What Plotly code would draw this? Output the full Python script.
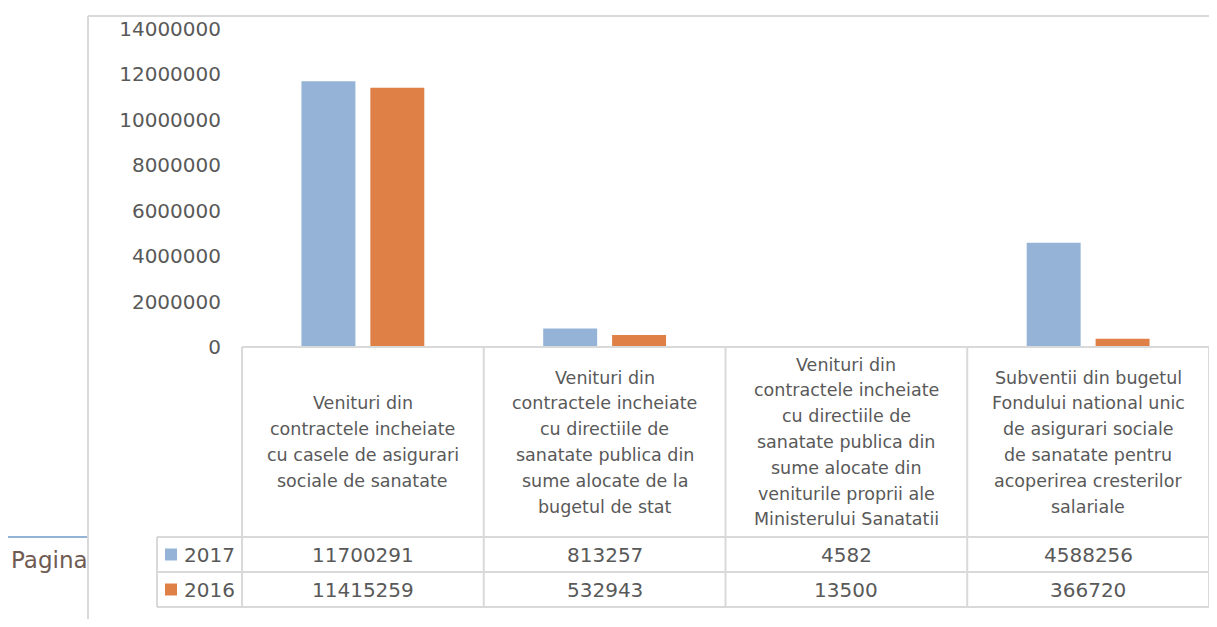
import plotly.graph_objects as go

# reference canvas and page offset (browser body margin)
REF_W, REF_H = 1217, 627
OFF = 8
W, H = REF_W - 2 * OFF, REF_H - 2 * OFF

categories = [
    "Venituri din<br>contractele incheiate<br>cu casele de asigurari<br>sociale de sanatate",
    "Venituri din<br>contractele incheiate<br>cu directiile de<br>sanatate publica din<br>sume alocate de la<br>bugetul de stat",
    "Venituri din<br>contractele incheiate<br>cu directiile de<br>sanatate publica din<br>sume alocate din<br>veniturile proprii ale<br>Ministerului Sanatatii",
    "Subventii din bugetul<br>Fondului national unic<br>de asigurari sociale<br>de sanatate pentru<br>acoperirea cresterilor<br>salariale",
]
series_names = ["2017", "2016"]
values_2017 = [11700291, 813257, 4582, 4588256]
values_2016 = [11415259, 532943, 13500, 366720]
series_values = [values_2017, values_2016]
colors = ["#95B3D7", "#DF8046"]
y_ticks = [0, 2000000, 4000000, 6000000, 8000000, 10000000, 12000000, 14000000]

def px(x):
    return (x - OFF) / W

def py(y):
    return 1 - (y - OFF) / H

TXT = "#595959"
GRID = "#D9D9D9"
FONT = "DejaVu Sans"

x_left, x_right = 242, 1209
y_zero, y_top = 347, 29

fig = go.Figure()
cat_ids = list(range(len(categories)))
for name, vals, col in zip(series_names, series_values, colors):
    fig.add_trace(go.Bar(x=cat_ids, y=vals, name=name, marker_color=col,
                         marker_line_width=0, showlegend=False))

shapes = []
annotations = []

def line(x0, y0, x1, y1, color=GRID, width=2):
    shapes.append(dict(type="line", xref="paper", yref="paper",
                       x0=px(x0), y0=py(y0), x1=px(x1), y1=py(y1),
                       line=dict(color=color, width=width), layer="above"))

# page decoration
line(4, 537, 88, 537, color="#95B3D7", width=2)
annotations.append(dict(x=px(9), y=py(560), xref="paper", yref="paper", text="Pagina",
                        showarrow=False, xanchor="left", yanchor="middle",
                        font=dict(family=FONT, size=23, color="#6F5B52")))
# white cover to clip page text behind chart frame
shapes.append(dict(type="rect", xref="paper", yref="paper",
                   x0=px(89), x1=px(100), y0=py(540), y1=py(580),
                   fillcolor="white", line=dict(width=0), layer="below"))
# outer frame
line(88, 16, REF_W, 16)
line(88, 16, 88, REF_H)

# data table
ncat = len(categories)
col_w = (x_right - x_left) / ncat
row_tops = [537, 572]
row_h = 35
table_bottom = 607
line(x_left, y_zero, x_right, y_zero)
for i in range(ncat + 1):
    xx = x_left + i * col_w
    line(xx, y_zero, xx, table_bottom)
line(157, 537, 157, table_bottom)
for yy in [537, 572, table_bottom]:
    line(157, yy, x_right, yy)

# header labels
line_sp = 25.8
header_center = (y_zero + 537) / 2
for i, lab in enumerate(categories):
    parts = lab.split("<br>")
    cx = x_left + (i + 0.5) * col_w
    n = len(parts)
    for j, p in enumerate(parts):
        yy = header_center + (j - (n - 1) / 2) * line_sp
        annotations.append(dict(x=px(cx), y=py(yy), xref="paper", yref="paper", text=p,
                                showarrow=False, xanchor="center", yanchor="middle",
                                font=dict(family=FONT, size=17.5, color=TXT)))

# rows
for r, (name, vals, col) in enumerate(zip(series_names, series_values, colors)):
    yc = row_tops[r] + row_h / 2
    shapes.append(dict(type="rect", xref="paper", yref="paper",
                       x0=px(165), x1=px(177), y0=py(yc - 6), y1=py(yc + 6),
                       fillcolor=col, line=dict(width=0), layer="above"))
    annotations.append(dict(x=px(182), y=py(yc), xref="paper", yref="paper", text=name,
                            showarrow=False, xanchor="left", yanchor="middle",
                            font=dict(family=FONT, size=20, color=TXT)))
    for i, v in enumerate(vals):
        cx = x_left + (i + 0.5) * col_w
        annotations.append(dict(x=px(cx), y=py(yc), xref="paper", yref="paper", text=str(v),
                                showarrow=False, xanchor="center", yanchor="middle",
                                font=dict(family=FONT, size=20, color=TXT)))

fig.update_layout(
    width=W, height=H, autosize=False,
    margin=dict(l=0, r=0, t=0, b=0, pad=0),
    paper_bgcolor="white", plot_bgcolor="white",
    barmode="group", bargap=0.43, bargroupgap=0.217,
    xaxis=dict(domain=[px(x_left), px(x_right)], range=[-0.5, ncat - 0.5],
               showticklabels=False, showgrid=False, zeroline=False, showline=False,
               ticks="", automargin=False),
    yaxis=dict(domain=[py(y_zero), py(y_top)], range=[0, 14000000],
               tickvals=y_ticks, ticktext=[str(t) for t in y_ticks],
               showgrid=False, zeroline=False, showline=False, ticks="",
               ticklabelstandoff=20, automargin=False,
               tickfont=dict(family=FONT, size=20, color=TXT)),
    shapes=shapes, annotations=annotations,
)

fig.write_html("out.html")
